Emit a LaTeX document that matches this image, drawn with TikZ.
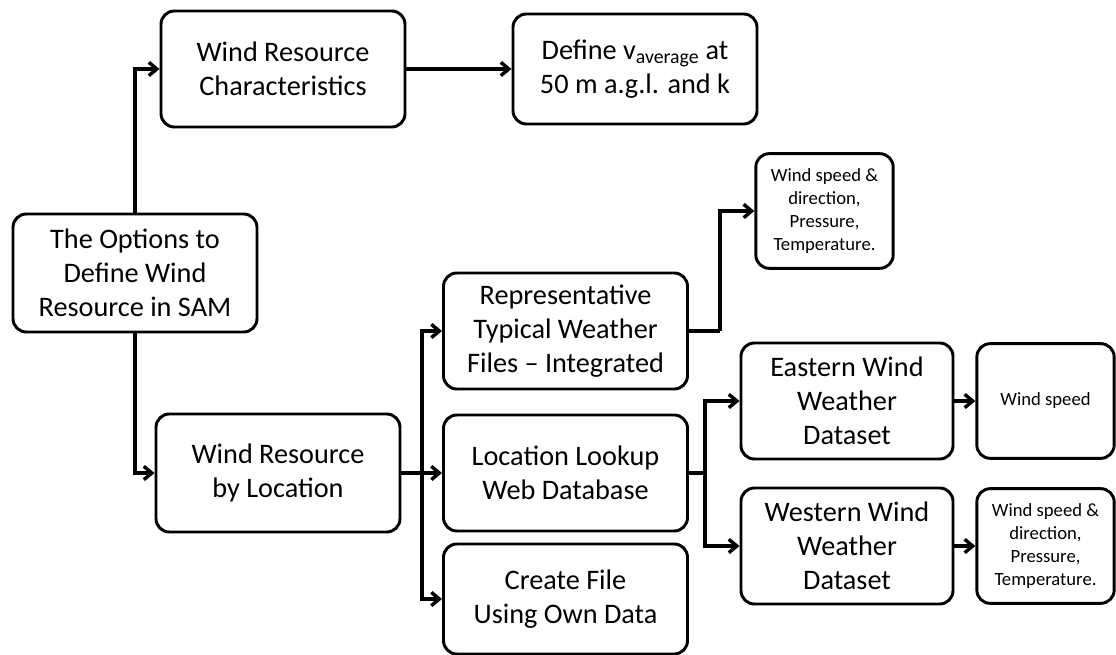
\documentclass[tikz,border=0pt]{standalone}
\usepackage{fontspec}
\setmainfont{Carlito}
\usetikzlibrary{arrows.meta}
\tikzset{
  box/.style={draw, rounded corners=10pt, line width=2.2pt, align=center, inner sep=2pt, font=\fontsize{21.2}{25.5}\selectfont},
  bigbox/.style={box, minimum width=183pt, minimum height=87pt},
  setbox/.style={box, minimum width=159pt, minimum height=87pt},
  smallbox/.style={box, minimum width=103pt, minimum height=86pt, font=\fontsize{14}{17.25}\selectfont},
  arr/.style={line width=2.6pt, -{Straight Barb[length=6pt,width=10pt]}},
  ln/.style={line width=2.6pt}
}
\begin{document}
\begin{tikzpicture}[x=0.75pt, y=-0.75pt]
\useasboundingbox (0,0) rectangle (1116,655);
\node[bigbox, minimum height=88.5pt] (opts) at (135,273) {The Options to\\Define Wind\\Resource in SAM};
\node[bigbox] (wrc) at (283,69) {Wind Resource\\Characteristics};
\node[bigbox, minimum height=82.5pt] (defv) at (635,69) {Define v\textsubscript{average} at\\50 m a.g.l. and k};
\node[bigbox, minimum height=88.5pt] (wrl) at (278,473) {Wind Resource\\by Location};
\node[bigbox] (rep) at (565.5,331) {Representative\\Typical Weather\\Files -- Integrated};
\node[bigbox] (loc) at (565.5,473) {Location Lookup\\Web Database};
\node[bigbox, minimum height=82.5pt] (create) at (565.5,599) {Create File\\Using Own Data};
\node[smallbox] (sm1) at (824.5,211) {Wind speed \&\\direction,\\Pressure,\\Temperature.};
\node[setbox] (east) at (847,401) {Eastern Wind\\Weather\\Dataset};
\node[setbox] (west) at (847,546) {Western Wind\\Weather\\Dataset};
\node[smallbox] (ws) at (1045.5,401) {Wind speed};
\node[smallbox] (sm3) at (1045.5,546) {Wind speed \&\\direction,\\Pressure,\\Temperature.};
\coordinate (j1) at (422,473);
\coordinate (j2) at (720,331);
\coordinate (j3) at (705,473);
\draw[arr] (opts.north) |- (wrc.west);
\draw[arr] (opts.south) |- (wrl.west);
\draw[arr] (wrc.east) -- (defv.west);
\draw[arr] (wrl.east) -- (loc.west);
\draw[arr] (j1) |- (rep.west);
\draw[arr] (j1) |- (create.west);
\draw[ln] (rep.east) -- (j2);
\draw[arr] (j2) |- (sm1.west);
\draw[ln] (loc.east) -- (j3);
\draw[arr] (j3) |- (east.west);
\draw[arr] (j3) |- (west.west);
\draw[arr] (east.east) -- (ws.west);
\draw[arr] (west.east) -- (sm3.west);
\end{tikzpicture}
\end{document}
